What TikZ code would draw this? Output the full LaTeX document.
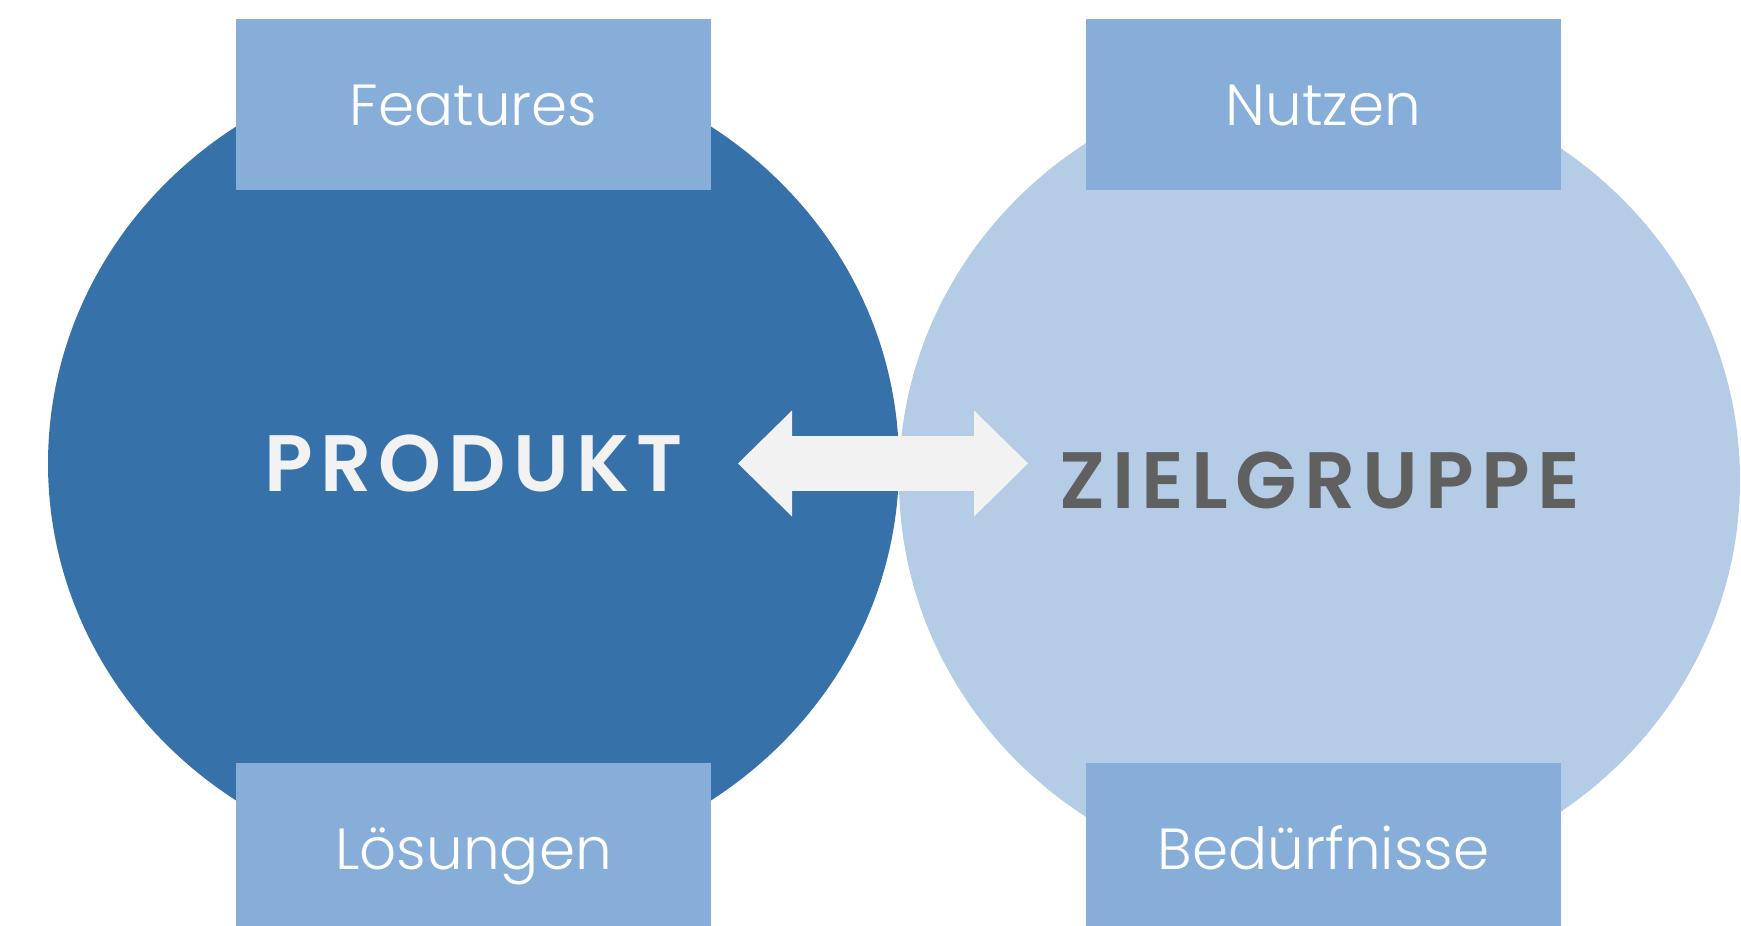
\documentclass[tikz,border=0pt]{standalone}
\usepackage{fontspec}
\usepackage{xcolor}
\usepackage{tikz}
\usetikzlibrary{positioning, arrows.meta, shapes.geometric}

\newfontfamily\lightfont{Poppins Light}
\newfontfamily\boldfont{Poppins SemiBold}[LetterSpace=9]

\definecolor{darkblue}{HTML}{3771AA}
\definecolor{lightblue}{HTML}{B4CCE5}
\definecolor{boxblue}{HTML}{86AED8}
\definecolor{arrowgray}{HTML}{F2F2F2}
\definecolor{textgray}{HTML}{606060}

\begin{document}
\begin{tikzpicture}[
  x=1pt, y=-1pt,
  circ/.style={ellipse, inner sep=0, outer sep=0, text height=56pt, text depth=0pt, font=\boldfont\fontsize{80}{80}\selectfont},
  box/.style={fill=boxblue, inner sep=0, outer sep=0, minimum width=475pt, minimum height=171pt, text=white, text height=41pt, text depth=0pt, font=\lightfont\fontsize{58}{58}\selectfont},
  bigarrow/.style={arrowgray, line width=55pt, {Triangle[length=54pt, width=106pt, line width=0pt]}-{Triangle[length=54pt, width=106pt, line width=0pt]}},
  node distance=573pt and 375pt
]
\clip (0,0) rectangle (1741,926);

% Circles
\node[circ, fill=darkblue, text=arrowgray, minimum width=851pt, minimum height=812pt] (produkt) at (473.5,463.5) {PRODUKT};
\node[circ, fill=lightblue, text=textgray, minimum width=841pt, minimum height=810pt] (zielgruppe) at (1319.5,480) {ZIELGRUPPE};

% Double arrow
\coordinate (arrowL) at (738,463.5);
\coordinate (arrowR) at (1028,463.5);
\draw[bigarrow] (arrowL) -- (arrowR);

% Boxes
\node[box] (features) at (473.5,104.5) {Features};
\node[box, right=of features] (nutzen) {Nutzen};
\node[box, below=of features] (loesungen) {Lösungen};
\node[box, right=of loesungen] (beduerfnisse) {Bedürfnisse};

\end{tikzpicture}
\end{document}
